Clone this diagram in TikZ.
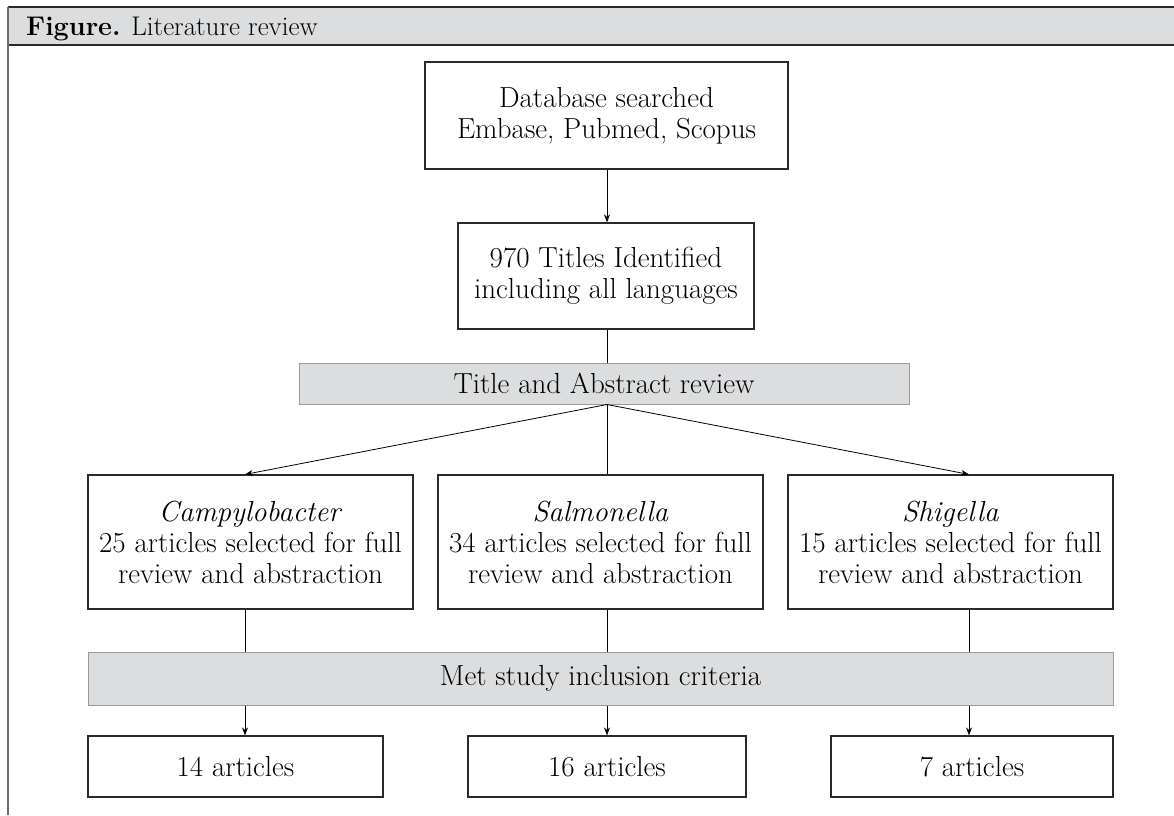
\documentclass[tikz,border=0pt]{standalone}
\usetikzlibrary{arrows.meta}
\definecolor{bargray}{HTML}{DCDDDF}
\definecolor{edgegray}{HTML}{9A9A9A}
\definecolor{boxline}{HTML}{2A2A2A}
\begin{document}
\begin{tikzpicture}[x=1pt,y=-1pt,
  txt/.style={font=\fontsize{29}{31}\selectfont, align=center, inner sep=0pt},
  box/.style={txt, draw=boxline, line width=1.2pt, fill=white},
  bar/.style={txt, draw=edgegray, line width=1pt, fill=bargray},
  conn/.style={draw=black, line width=0.8pt},
  arr/.style={conn, -{Stealth[length=8pt,width=6pt]}}]
\useasboundingbox (0,0) rectangle (1174,815);
% header
\fill[bargray] (8,7) rectangle (1174,45);
\draw[line width=2pt, draw=boxline] (8,7) -- (1174,7);
\draw[line width=1.5pt, draw=boxline] (8,45) -- (1174,45);
\draw[line width=1.2pt, draw=edgegray!70!black] (8,7) -- (8,815);
\node[txt, font=\fontsize{27}{31}\selectfont, anchor=base west] (hdr) at (26,35) {\textbf{Figure.} Literature review};
% nodes
\node[box, minimum width=363pt, minimum height=107pt] (db) at (606.5,115.5) {Database searched\\Embase, Pubmed, Scopus};
\node[box, minimum width=296pt, minimum height=106pt] (t970) at (606,276) {970 Titles Identified\\including all languages};
\node[bar, minimum width=610pt, minimum height=41pt] (tar) at (604,383.5) {Title and Abstract review};
\node[box, minimum width=325pt, minimum height=134pt] (camp) at (250.5,542) {\textit{Campylobacter}\\25 articles selected for full\\review and abstraction};
\node[box, minimum width=325pt, minimum height=134pt] (salm) at (600.5,542) {\textit{Salmonella}\\34 articles selected for full\\review and abstraction};
\node[box, minimum width=325pt, minimum height=134pt] (shig) at (950.5,542) {\textit{Shigella}\\15 articles selected for full\\review and abstraction};
\node[bar, minimum width=1025pt, minimum height=53pt] (met) at (600.5,678.5) {Met study inclusion criteria};
\node[box, minimum width=295pt, minimum height=61pt] (a14) at (235.5,766.5) {14 articles};
\node[box, minimum width=278pt, minimum height=61pt] (a16) at (607,766.5) {16 articles};
\node[box, minimum width=282pt, minimum height=61pt] (a7) at (972,766.5) {7 articles};
% connector columns
\coordinate (c1) at (245,0);
\coordinate (c2) at (607,0);
\coordinate (c3) at (969,0);
% connectors
\draw[arr] (db.south -| c2) -- (t970.north -| c2);
\draw[conn] (t970.south -| c2) -- (tar.north -| c2);
\draw[arr] (tar.south -| c2) -- (camp.north -| c1);
\draw[conn] (tar.south -| c2) -- (salm.north -| c2);
\draw[arr] (tar.south -| c2) -- (shig.north -| c3);
\draw[conn] (camp.south -| c1) -- (met.north -| c1);
\draw[conn] (salm.south -| c2) -- (met.north -| c2);
\draw[conn] (shig.south -| c3) -- (met.north -| c3);
\draw[arr] (met.south -| c1) -- (a14.north -| c1);
\draw[arr] (met.south -| c2) -- (a16.north -| c2);
\draw[arr] (met.south -| c3) -- (a7.north -| c3);
\end{tikzpicture}
\end{document}
